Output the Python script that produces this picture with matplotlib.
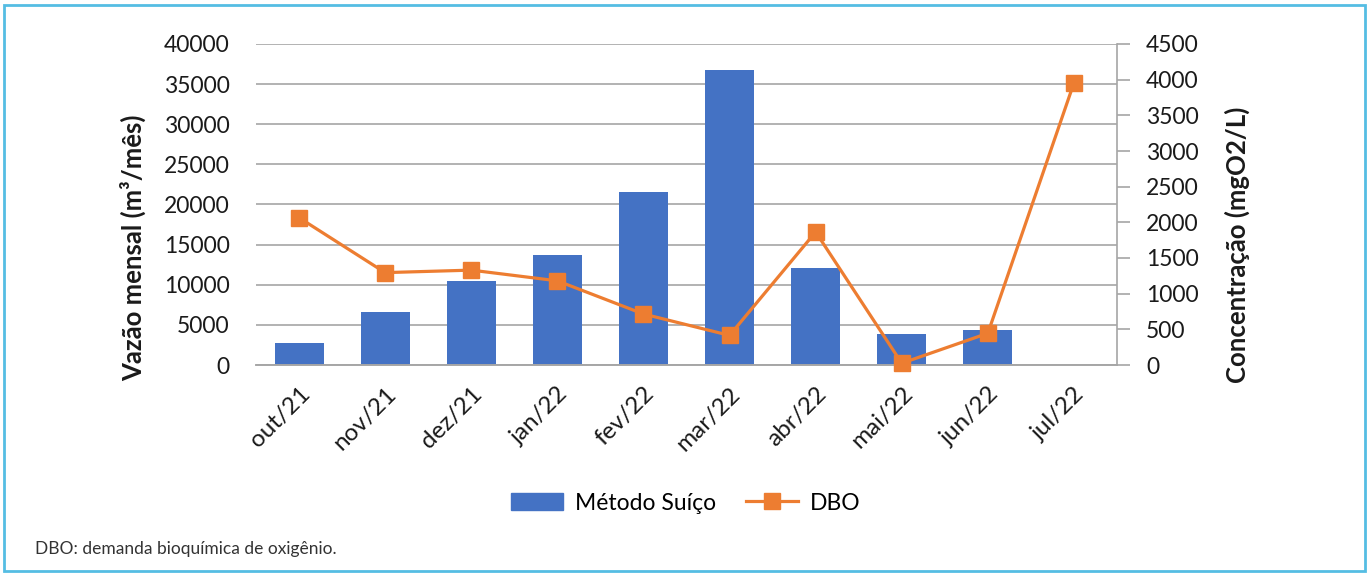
import matplotlib
matplotlib.use("Agg")
import matplotlib.pyplot as plt
from matplotlib.patches import Rectangle
from matplotlib.lines import Line2D

# Monthly data
months = ["out/21", "nov/21", "dez/21", "jan/22", "fev/22",
          "mar/22", "abr/22", "mai/22", "jun/22", "jul/22"]
vazao = [2700, 6600, 10450, 13650, 21500, 36700, 12050, 3850, 4350, 0]
dbo = [2065, 1295, 1330, 1180, 715, 415, 1865, 25, 445, 3955]

left_ticks = list(range(0, 40001, 5000))
right_ticks = list(range(0, 4501, 500))

BLUE = "#4472C4"
ORANGE = "#ED7D31"
GRID = "#a6a6a6"
TXT = "#1a1a1a"

plt.rcParams["font.family"] = ["Lato", "DejaVu Sans"]

W, H = 1371, 573
fig = plt.figure(figsize=(W / 100, H / 100), dpi=100)
ax = fig.add_axes([256 / W, 1 - 365 / H, (1117 - 256) / W, (365 - 44) / H])
ax2 = ax.twinx()

x = list(range(len(months)))
ax.bar(x, vazao, width=0.57, color=BLUE, zorder=2)
ax.set_xlim(-0.5, len(months) - 0.5)
ax.set_ylim(0, 40000)
ax.set_yticks(left_ticks)
ax.yaxis.grid(True, color=GRID, linewidth=1.2, zorder=0)
ax.set_axisbelow(True)
ax.tick_params(axis="y", length=0, pad=19, labelsize=16.5, labelcolor=TXT)
ax.tick_params(axis="x", length=0, pad=13, labelsize=17.5, labelcolor=TXT)
ax.set_xticks(x)
ax.set_xticklabels(months, rotation=45, ha="right", rotation_mode="anchor")

ax2.plot(x, dbo, color=ORANGE, linewidth=2.3, marker="s", markersize=12,
         markeredgecolor=ORANGE, zorder=3, clip_on=False)
ax2.set_ylim(0, 4500)
ax2.set_yticks(right_ticks)
ax2.tick_params(axis="y", length=9, width=1.2, color=GRID, pad=12,
                labelsize=16.5, labelcolor=TXT)

for a in (ax, ax2):
    a.spines["top"].set_visible(False)
    a.spines["left"].set_visible(False)
    a.spines["right"].set_visible(False)
    a.spines["bottom"].set_color(GRID)
    a.spines["bottom"].set_linewidth(1.2)
ax2.spines["right"].set_visible(True)
ax2.spines["right"].set_color(GRID)
ax2.spines["right"].set_linewidth(1.2)

# Axis titles
fig.text(133 / W, 1 - 248 / H, "Vazão mensal (m³/mês)", rotation=90,
         fontsize=18.5, fontweight="bold", color=TXT, ha="center", va="center")
fig.text(1237 / W, 1 - 245 / H, "Concentração (mgO2/L)", rotation=90,
         fontsize=18.5, fontweight="bold", color=TXT, ha="center", va="center")

handles = [Rectangle((0, 0), 1, 1, color=BLUE),
           Line2D([0], [0], color=ORANGE, linewidth=2.3, marker="s",
                  markersize=12)]
fig.legend(handles, ["Método Suíço", "DBO"], loc="center",
           bbox_to_anchor=(0.5, 1 - 503 / H), ncol=2, frameon=False,
           fontsize=16.5, handlelength=2.3, handleheight=0.8,
           handletextpad=0.5, columnspacing=1.3)

fig.text(35 / W, 1 - 549 / H, "DBO: demanda bioquímica de oxigênio.",
         fontsize=12.5, color="#333333", va="center", ha="left")

fig.patches.append(Rectangle((4 / W, 2 / H), 1361 / W, 566 / H,
                             transform=fig.transFigure, fill=False,
                             edgecolor="#55bde3", linewidth=2))

fig.savefig("out.png", dpi=100)
